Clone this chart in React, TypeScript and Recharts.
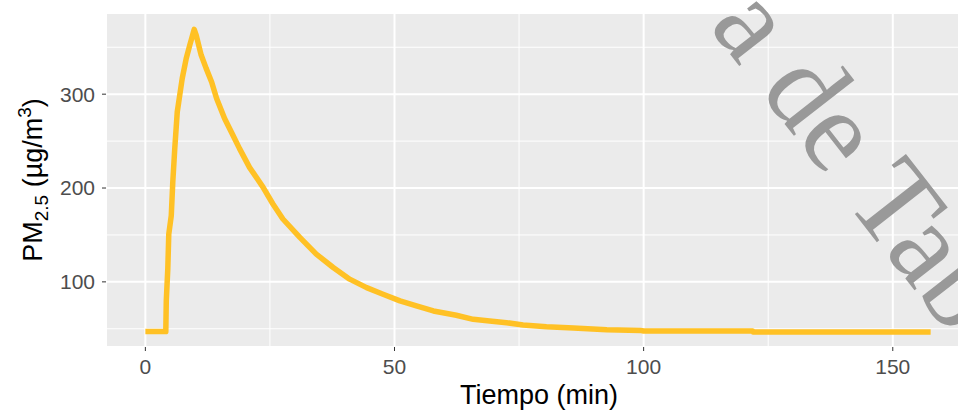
import { LineChart, Line, XAxis, YAxis, CartesianGrid, ReferenceLine, Label } from 'recharts';

// minutes since start
const timeMin = [
  0, 4.1, 4.2, 4.5, 4.7, 5.2, 5.5, 5.9, 6.4, 6.9, 7.4, 8.2, 8.9, 9.8,
  10.2, 11.2, 12.2, 13.3, 14.3, 15.9, 17.6, 18.9, 20.9, 23.6, 25.6, 27.6,
  31, 34.3, 37.7, 41, 44.4, 47.7, 51.1, 54.4, 57.8, 60.8, 62.4, 65.8, 69.1,
  72.5, 75.8, 80.5, 85.9, 92.6, 99.3, 100, 121.9, 122, 157.6,
];
// PM2.5 in ug/m3
const pm25 = [
  47, 47, 80, 113.6, 151, 170.6, 206, 242, 281, 299, 316.8, 338, 352, 369,
  363, 341.7, 327.5, 313, 295.4, 274, 256, 242, 222, 201, 183, 167,
  147.4, 129.6, 115.3, 102.9, 93.9, 86.8, 79.7, 74.3, 69, 66, 64.4, 60.1, 58.3,
  56.5, 54, 52.2, 50.8, 49, 48.3, 47.6, 47.6, 46.5, 46.5,
];

const xTicks = [0, 50, 100, 150];
const xMinor = [25, 75, 125];
const yTicks = [100, 200, 300];
const yMinor = [50, 150, 250, 350];

const xDomain = [-7.9, 165.9];
const yDomain = [30.6, 386.5];

const LINE_COLOR = '#FFC125';
const FONT = '"Liberation Sans", Arial, sans-serif';

const chartData = timeMin.map((t, i) => ({ t, pm: pm25[i] }));

const xTitle = () => (
  <text x={539} y={404} textAnchor="middle" fontSize={27} fontFamily={FONT} fill="#000">
    Tiempo (min)
  </text>
);

const yTitle = () => (
  <text
    transform="translate(42 180) rotate(-90)"
    x={0}
    y={0}
    textAnchor="middle"
    fontSize={27}
    fontFamily={FONT}
    fill="#000"
  >
    PM
    <tspan dy={6} fontSize={19}>2.5</tspan>
    <tspan dy={-6}> (µg/m</tspan>
    <tspan dy={-11} fontSize={19}>3</tspan>
    <tspan dy={11}>)</tspan>
  </text>
);

export default function App() {
  return (
    <div style={{ position: 'fixed', left: 0, top: 0, width: 958, height: 411, overflow: 'hidden', background: '#fff' }}>
      <LineChart
        width={980}
        height={411}
        data={chartData}
        margin={{ top: 13, right: 8, bottom: 0, left: 0 }}
      >
        <CartesianGrid fill="#EBEBEB" stroke="#FFFFFF" strokeWidth={2} />
        <XAxis
          dataKey="t"
          type="number"
          domain={xDomain}
          ticks={xTicks}
          allowDataOverflow
          axisLine={false}
          tickLine={{ stroke: '#333333', strokeWidth: 1 }}
          tickSize={4}
          tickMargin={8}
          tick={{ fontSize: 21, fill: '#4D4D4D', fontFamily: FONT }}
          height={64}
        >
          <Label content={xTitle} />
        </XAxis>
        <YAxis
          type="number"
          domain={yDomain}
          ticks={yTicks}
          allowDataOverflow
          axisLine={false}
          tickLine={{ stroke: '#333333', strokeWidth: 1 }}
          tickSize={4}
          tickMargin={7}
          tick={{ fontSize: 21, fill: '#4D4D4D', fontFamily: FONT }}
          width={106}
        >
          <Label content={yTitle} />
        </YAxis>
        {xMinor.map((v) => (
          <ReferenceLine key={'x' + v} x={v} stroke="#FFFFFF" strokeWidth={1} />
        ))}
        {yMinor.map((v) => (
          <ReferenceLine key={'y' + v} y={v} stroke="#FFFFFF" strokeWidth={1} />
        ))}
        <Line
          type="linear"
          dataKey="pm"
          stroke={LINE_COLOR}
          strokeWidth={5.5}
          strokeLinejoin="round"
          dot={false}
          activeDot={false}
          isAnimationActive={false}
        />
      </LineChart>
      <svg
        width={958}
        height={411}
        style={{ position: 'absolute', left: 0, top: 0, pointerEvents: 'none' }}
      >
        <text
          transform="translate(708 26) rotate(52)"
          fontSize={118}
          fontFamily='"Liberation Serif", "Times New Roman", serif'
          fill="#999999"
        >
          a de Tabasco
        </text>
      </svg>
    </div>
  );
}
